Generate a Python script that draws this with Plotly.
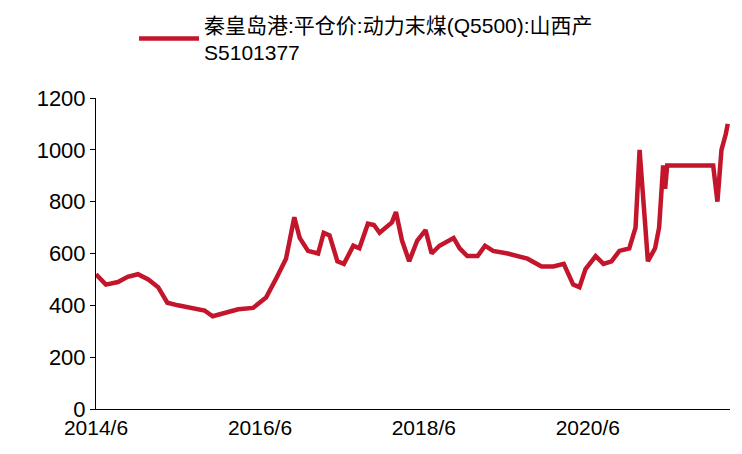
import plotly.graph_objects as go

dates = ["2014-06-01","2014-07-15","2014-09-07","2014-10-20","2014-12-05","2015-01-20","2015-03-05",
         "2015-04-15","2015-06-01","2015-08-05","2015-09-28","2015-11-03","2015-12-18","2016-02-25",
         "2016-05-01","2016-06-28","2016-08-10","2016-09-25","2016-11-01","2016-11-25","2017-01-01",
         "2017-02-15","2017-03-12","2017-04-07","2017-05-12","2017-06-10","2017-07-22","2017-08-18",
         "2017-09-25","2017-10-22","2017-11-16","2018-01-10","2018-01-28","2018-02-24","2018-03-28",
         "2018-05-03","2018-06-09","2018-07-06","2018-08-10","2018-10-12","2018-11-08","2018-12-12",
         "2019-01-27","2019-03-01","2019-04-06","2019-06-10","2019-09-06","2019-11-08","2019-12-31",
         "2020-02-15","2020-03-28","2020-04-25","2020-05-22","2020-07-06","2020-08-10","2020-09-15",
         "2020-10-20","2020-12-03","2020-12-31","2021-01-18","2021-02-06","2021-02-24","2021-03-28",
         "2021-04-15","2021-05-03","2021-05-12","2021-05-21","2021-12-12","2021-12-31","2022-01-18",
         "2022-02-06","2022-02-15"]
price = [520,480,490,510,520,500,470,
         410,400,390,380,358,370,385,
         390,430,500,580,740,660,610,
         600,680,670,570,560,630,620,
         715,710,680,720,760,650,570,
         650,690,600,630,660,620,590,
         590,630,610,600,580,550,550,
         560,480,470,540,590,560,570,
         610,620,700,1000,780,570,620,
         700,940,850,940,940,800,1000,
         1060,1100]

tickvals = ["2014-06-01","2016-06-01","2018-06-01","2020-06-01"]
ticktext = ["2014/6","2016/6","2018/6","2020/6"]

fig = go.Figure()
fig.add_scatter(x=dates, y=price, mode="lines",
                line=dict(color="#c3152b", width=4.5),
                name="秦皇岛港:平仓价:动力末煤(Q5500):山西产<br>S5101377")

fig.update_layout(
    width=742, height=454,
    margin=dict(l=88, r=20, t=90, b=53, autoexpand=False),
    plot_bgcolor="white", paper_bgcolor="white",
    font=dict(family="Liberation Sans, Noto Sans CJK SC", size=21, color="black"),
    showlegend=True,
    legend=dict(orientation="h", x=0.06, xanchor="left", y=1.30, yanchor="top",
                font=dict(size=21, family="Liberation Sans, Noto Sans CJK SC"),
                itemwidth=60),
)
fig.update_xaxes(range=["2014-06-01","2022-02-25"], tickvals=tickvals, ticktext=ticktext,
                 showline=True, linecolor="black", linewidth=1, showgrid=False,
                 ticks="", tickfont=dict(size=21), automargin=False)
fig.update_yaxes(range=[0,1200], dtick=200, showline=True, linecolor="black", linewidth=1,
                 showgrid=False, ticks="outside", ticklen=5, tickcolor="black",
                 tickfont=dict(size=22), zeroline=False, automargin=False)

fig.write_html("out.html")
